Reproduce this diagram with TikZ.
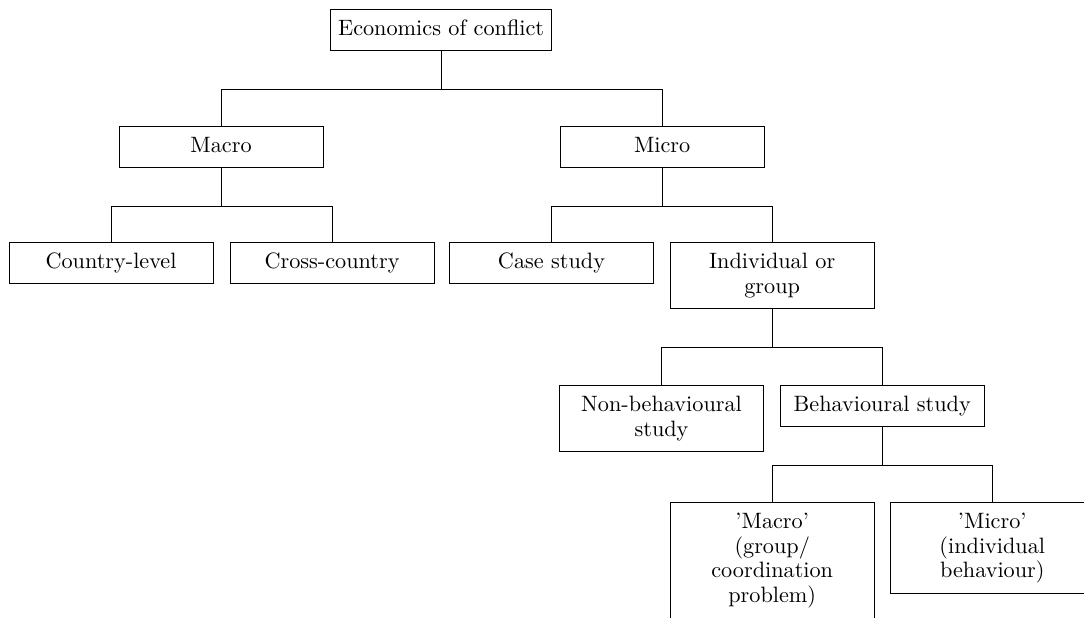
\documentclass[tikz,border=0pt]{standalone}
\usepackage{tikz}
\usetikzlibrary{positioning}

\begin{document}
\begin{tikzpicture}[
    plainbox/.style={draw, anchor=north, inner xsep=3.4pt, inner ysep=3.7pt,
        font=\fontsize{10}{11.2}\selectfont,
        execute at begin node=\strut, execute at end node=\strut},
    topicbox/.style={plainbox, align=center, text width=85pt}
]
    % Page frame (the lowest boxes run past it)
    \useasboundingbox (0,0) rectangle (17.14,-9.76);
    \clip (0,0) rectangle (17.14,-9.76);

    % Top of the tree
    \node[plainbox] (econ) at (6.975,-0.142) {Economics of conflict};

    % Macro and micro
    \node[topicbox] (macro) at (3.495,-1.993) {Macro};
    \node[topicbox] (micro) at (10.47,-1.993) {Micro};

    % Third row
    \node[topicbox] (country) at (1.755,-3.827) {Country-level};
    \node[topicbox] (cross) at (5.25,-3.827) {Cross-country};
    \node[topicbox] (case) at (8.72,-3.827) {Case study};
    \node[topicbox] (indiv) at (12.21,-3.827) {Individual or\\group};

    % Fourth row
    \node[topicbox] (nonbehav) at (10.46,-6.089) {Non-behavioural\\study};
    \node[topicbox] (behav) at (13.95,-6.089) {Behavioural study};

    % Bottom row
    \node[topicbox] (macrogroup) at (12.21,-7.939) {'Macro'\\(group/\\coordination\\problem)};
    \node[topicbox] (microindiv) at (15.69,-7.939) {'Micro'\\(individual\\behaviour)};

    % Branches
    \foreach \kid in {macro, micro}
        \draw (econ.south) -- ++(0,-0.6) -| (\kid.north);
    \foreach \kid in {country, cross}
        \draw (macro.south) -- ++(0,-0.6) -| (\kid.north);
    \foreach \kid in {case, indiv}
        \draw (micro.south) -- ++(0,-0.6) -| (\kid.north);
    \foreach \kid in {nonbehav, behav}
        \draw (indiv.south) -- ++(0,-0.6) -| (\kid.north);
    \foreach \kid in {macrogroup, microindiv}
        \draw (behav.south) -- ++(0,-0.6) -| (\kid.north);
\end{tikzpicture}
\end{document}
